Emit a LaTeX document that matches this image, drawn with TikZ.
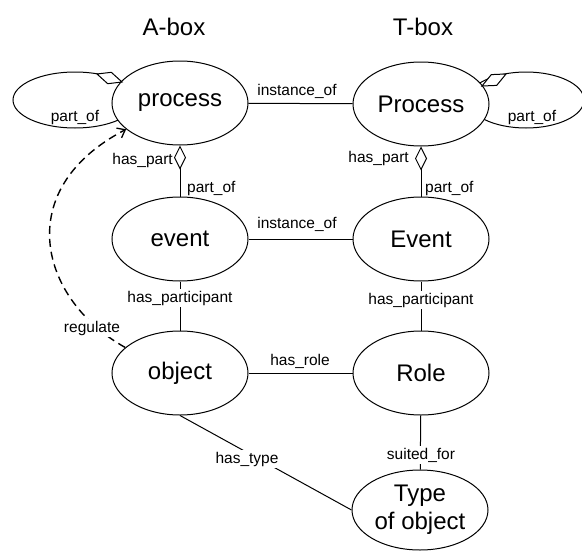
\documentclass[tikz,border=0pt]{standalone}
\usepackage{fontspec}
\setmainfont{Liberation Sans}
\usetikzlibrary{shapes.geometric,arrows.meta}
\begin{document}
\begin{tikzpicture}[x=1pt,y=-1pt,
  ent/.style={ellipse,draw,line width=1pt,fill=white,minimum width=136pt,minimum height=84pt,inner sep=0pt,font=\fontsize{24}{28}\selectfont,align=center},
  loopell/.style={ellipse,draw,line width=1pt,inner sep=0pt},
  lbl/.style={font=\fontsize{15.5}{18}\selectfont,inner sep=1pt},
  wlbl/.style={lbl,fill=white,inner sep=2pt},
  conn/.style={line width=1pt},
  diam/.style={line width=1pt,fill=white,line join=miter},
  agg/.style={conn,-{Diamond[fill=white,length=24pt,width=12pt,line width=1pt]}},
  boxtitle/.style={font=\fontsize{24}{28}\selectfont,anchor=base,inner sep=0pt}]
\useasboundingbox (0,0) rectangle (582,552);

% self-loop ellipses (behind the entities)
\node[loopell,minimum width=124pt,minimum height=56pt] (loopL) at (75,100) {};
\node[loopell,minimum width=116pt,minimum height=56pt] (loopR) at (526,100) {};

% titles
\node[boxtitle] (abox) at (174,35) {A-box};
\node[boxtitle] (tbox) at (423,35) {T-box};

% entities
\node[ent] (process) at (180,103) {process};
\node[ent] (Process) at (421,104) {Process};
\node[ent] (event) at (180,239) {event};
\node[ent] (Event) at (421,239) {Event};
\node[ent] (object) at (180,373) {object};
\node[ent] (Role) at (421,373) {Role};
\node[ent,minimum height=80pt] (type) at (420,510) {Type\\of object};

% self-loop aggregation diamonds
\coordinate (dLa) at (122,82);
\coordinate (dLs1) at (111.3,72.3);
\coordinate (dLb) at (97,74);
\coordinate (dLs2) at (107.7,83.7);
\draw[diam] (dLa) -- (dLs1) -- (dLb) -- (dLs2) -- cycle;
\coordinate (dRa) at (482,86);
\coordinate (dRs1) at (496.7,85.4);
\coordinate (dRb) at (506,74);
\coordinate (dRs2) at (491.3,74.6);
\draw[diam] (dRa) -- (dRs1) -- (dRb) -- (dRs2) -- cycle;
\node[lbl] (lpL) at (75,117) {part\_of};
\node[lbl] (lpR) at (532,117) {part\_of};

% horizontal instance links
\draw[conn] (process) -- (Process);
\node[lbl] (io1) at (297,91) {instance\_of};
\draw[conn] (event) -- (Event);
\node[lbl] (io2) at (297,224) {instance\_of};
\draw[conn] (object) -- (Role);
\node[lbl] (hr) at (300,361) {has\_role};

% part-whole
\draw[agg] (event) -- (process);
\node[lbl,anchor=east] (hp1) at (174,160) {has\_part};
\node[lbl,anchor=west] (po1) at (186,188) {part\_of};
\draw[agg] (Event) -- (Process);
\node[lbl,anchor=east] (hp2) at (410,158) {has\_part};
\node[lbl,anchor=west] (po2) at (424,188) {part\_of};

% participation
\draw[conn] (event) -- (object);
\node[wlbl] (hpa1) at (180,298) {has\_participant};
\draw[conn] (Event) -- (Role);
\node[wlbl] (hpa2) at (421,300) {has\_participant};

% type links
\draw[conn] (object.south) -- (type.west);
\node[wlbl] (ht) at (247,459) {has\_type};
\draw[conn] (Role) -- (type);
\node[wlbl] (sf) at (421,455) {suited\_for};

% regulate
\draw[line width=1.4pt,dash pattern=on 8pt off 5pt,-{Straight Barb[length=7pt,width=11pt,line width=1.3pt]}]
  (object.155) .. controls (40,300) and (10,190) .. (process.206);
\node[wlbl] (reg) at (92,328) {regulate};
\end{tikzpicture}
\end{document}
